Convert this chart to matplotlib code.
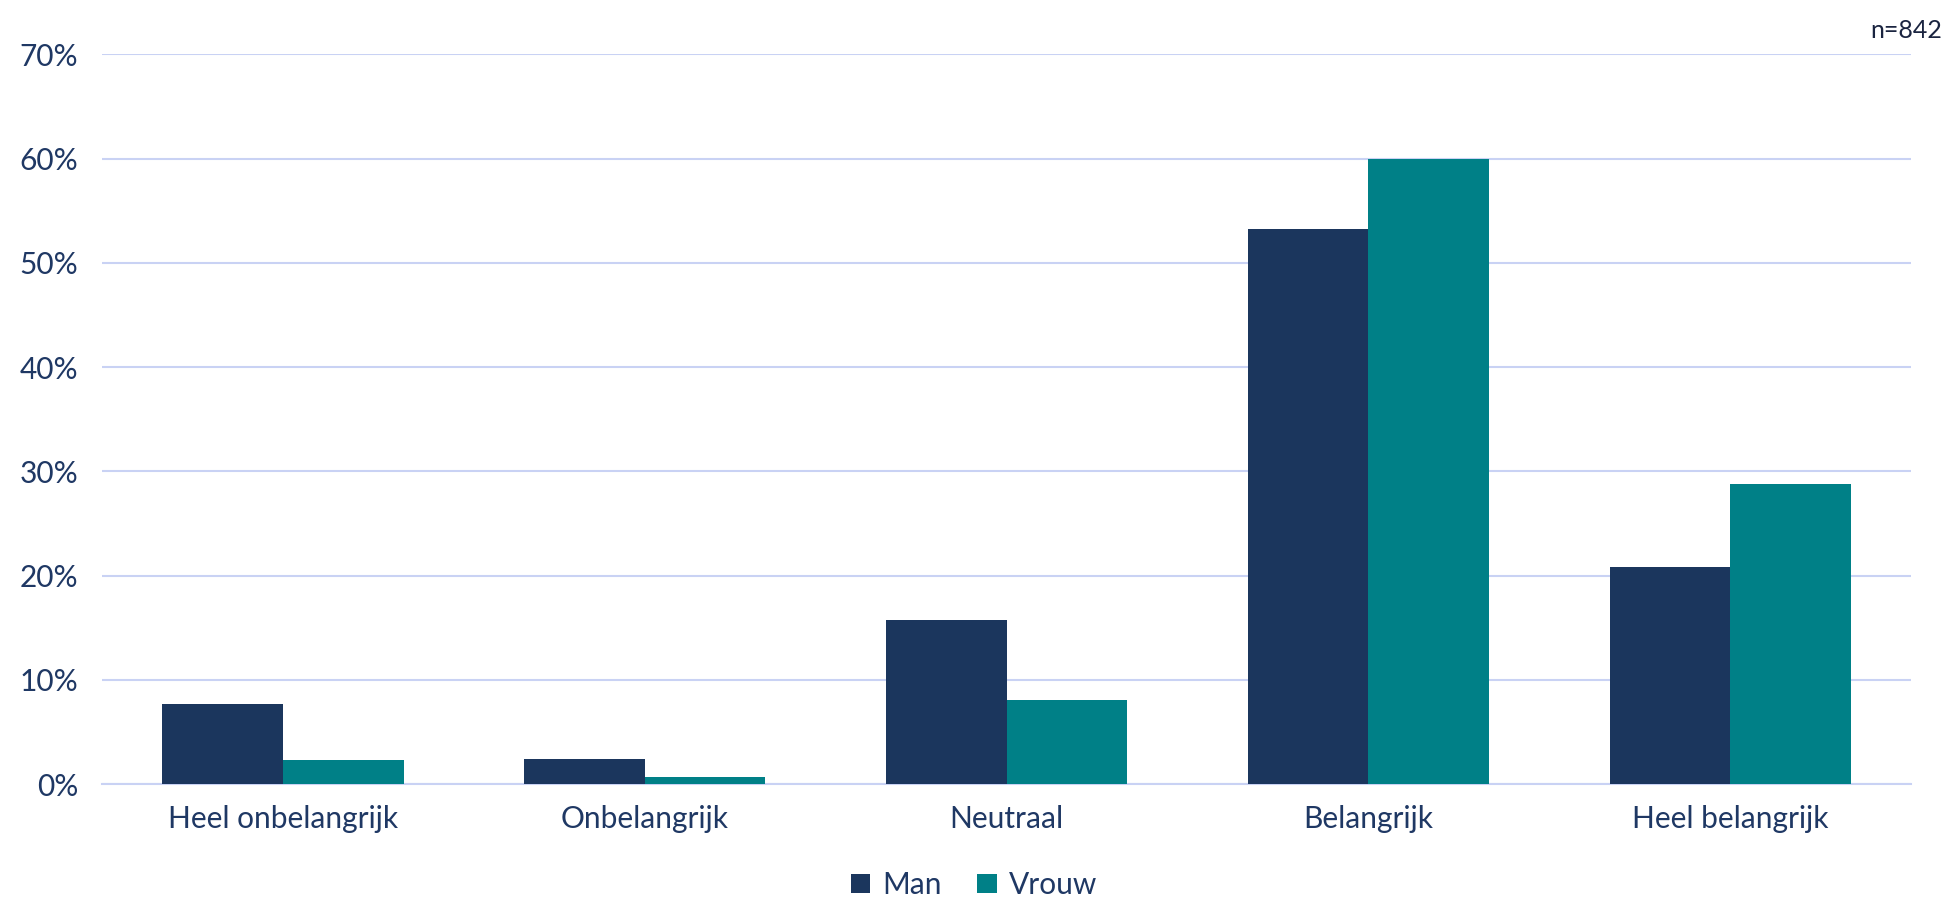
import numpy as np
import matplotlib.pyplot as plt
from matplotlib.ticker import FuncFormatter

categories = ['Heel onbelangrijk', 'Onbelangrijk', 'Neutraal', 'Belangrijk', 'Heel belangrijk']
man = [7.7, 2.4, 15.7, 53.3, 20.8]
vrouw = [2.3, 0.7, 8.1, 60.0, 28.8]
series_names = ['Man', 'Vrouw']

col_man = '#1B365D'
col_vrouw = '#008087'
col_text = '#1F3864'
col_grid = '#C9D2F4'

plt.rcParams['font.family'] = ['Lato', 'DejaVu Sans']

fig = plt.figure(figsize=(19.48, 9.0), dpi=100)
ax = fig.add_axes([102/1948, 1-784/900, (1911-102)/1948, (784-54.5)/900])

x = np.arange(len(categories))
w = 1/3
ax.bar(x - w/2, man, width=w, color=col_man, label=series_names[0], zorder=3)
ax.bar(x + w/2, vrouw, width=w, color=col_vrouw, label=series_names[1], zorder=3)

ax.set_xlim(-0.5, len(categories) - 0.5)
ax.set_ylim(0, 70)
ax.set_yticks(np.arange(0, 71, 10))
ax.yaxis.set_major_formatter(FuncFormatter(lambda v, p: f'{v:.0f}%'))
ax.set_xticks(x)
ax.set_xticklabels(categories)

ax.grid(axis='y', color=col_grid, lw=1.5, zorder=0)
ax.tick_params(axis='both', length=0, labelsize=21.5, labelcolor=col_text)
ax.tick_params(axis='y', pad=17)
ax.tick_params(axis='x', pad=15)
for s in ['top', 'right', 'left']:
    ax.spines[s].set_visible(False)
ax.spines['bottom'].set_color(col_grid)
ax.spines['bottom'].set_linewidth(1.5)

fig.text(1942/1948, 1-30/900, 'n=842', ha='right', va='center', fontsize=18, color='#1A2440')

fig.legend(loc='center', bbox_to_anchor=(0.5, 1-885/900), ncol=2, frameon=False,
           fontsize=21.5, handlelength=0.65, handleheight=0.65, handletextpad=0.4,
           columnspacing=1.2, labelcolor=col_text)

fig.savefig('out.png', dpi=100)
